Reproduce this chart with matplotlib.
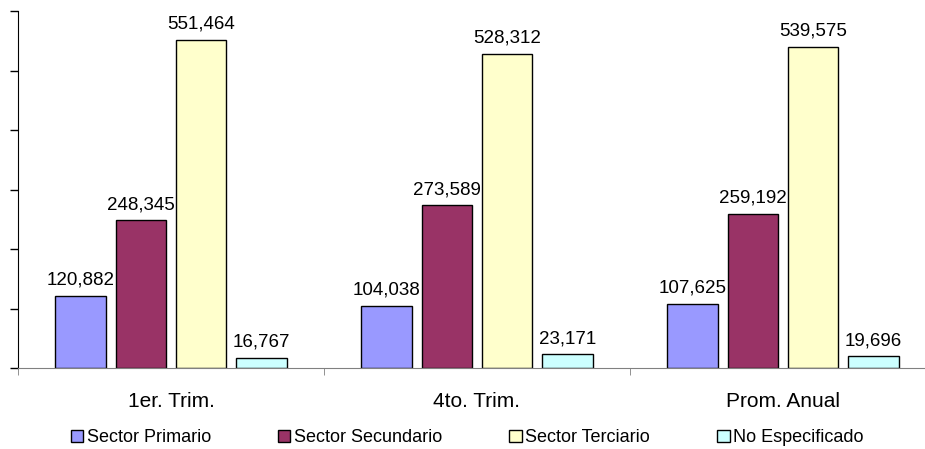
import numpy as np
import matplotlib
matplotlib.use("Agg")
import matplotlib.pyplot as plt
from matplotlib.patches import Patch

plt.rcParams['font.family'] = ['Liberation Sans', 'DejaVu Sans']

# ====== データ ======
categories = ["1er. Trim.", "4to. Trim.", "Prom. Anual"]
series_names = ["Sector Primario", "Sector Secundario", "Sector Terciario", "No Especificado"]
primario = [120882, 104038, 107625]
secundario = [248345, 273589, 259192]
terciario = [551464, 528312, 539575]
no_espec = [16767, 23171, 19696]
colors = ["#9999FF", "#993366", "#FFFFCC", "#CCFFFF"]

series = [primario, secundario, terciario, no_espec]

fig = plt.figure(figsize=(9.25, 4.49), dpi=100)
# axes run a little past the right edge, like the original
ax = fig.add_axes([18 / 925, 81 / 449, 918 / 925, 357 / 449])

x = np.arange(len(categories))
width = 0.164
step = 0.197
for i, (vals, col) in enumerate(zip(series, colors)):
    pos = x + (i - 1.5) * step
    ax.bar(pos, vals, width, color=col, edgecolor="black", linewidth=1.0)
    for p, v in zip(pos, vals):
        ax.text(p, v + 12000, f"{v:,}", ha="center", va="bottom", fontsize=13.5)

ax.set_xlim(-0.5, len(categories) - 0.5)
ax.set_ylim(0, 600000)
ax.set_yticks(np.arange(0, 600001, 100000))
ax.set_yticklabels([])
ax.tick_params(axis="y", direction="out", length=6, width=1, color="black")

ax.set_xticks(x)
ax.set_xticklabels(categories, fontsize=15)
ax.tick_params(axis="x", length=0, pad=17)
ax.set_xticks(np.arange(-0.5, len(categories)), minor=True)
ax.tick_params(axis="x", which="minor", length=5, color="#808080", direction="out")

for s in ["top", "right"]:
    ax.spines[s].set_visible(False)
ax.spines["bottom"].set_color("#808080")
ax.spines["left"].set_color("black")

handles = [Patch(facecolor=c, edgecolor="black", linewidth=1.0) for c in colors]
fig.legend(handles, series_names, loc="center", bbox_to_anchor=(0.505, 0.025),
           ncol=4, frameon=False, fontsize=13, handlelength=0.7, handleheight=0.7,
           handletextpad=0.2, columnspacing=3.7)

plt.savefig("out.png", dpi=100)
plt.close()
